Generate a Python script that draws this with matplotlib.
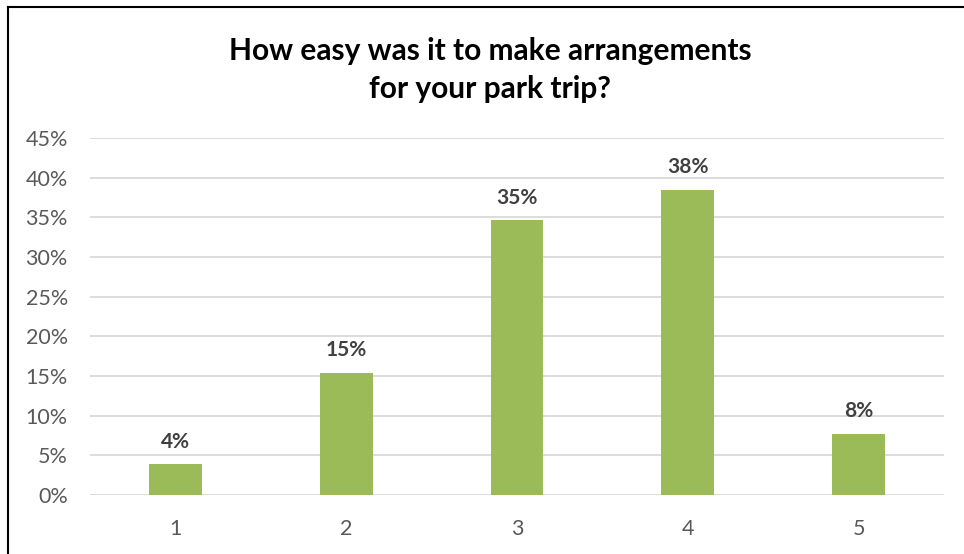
import matplotlib.pyplot as plt
from matplotlib.lines import Line2D
import matplotlib.ticker as mtick

# Respostas da pesquisa (26 respondentes), em percentual
notas = ["1", "2", "3", "4", "5"]
percentuais = [3.85, 15.38, 34.62, 38.46, 7.69]
titulo = "How easy was it to make arrangements\nfor your park trip?"

plt.rcParams["font.family"] = ["Lato", "DejaVu Sans"]

fig = plt.figure(figsize=(9.64, 5.54), dpi=100)
ax = fig.add_axes([90 / 964, 1 - 495 / 554, 854 / 964, 357 / 554])

ax.bar(notas, percentuais, width=0.31, color="#9BBB59", zorder=3)
for x, v in zip(notas, percentuais):
    ax.annotate(f"{v:.0f}%", (x, v), xytext=(0, 9), textcoords="offset points",
                ha="center", va="bottom", fontsize=15, fontweight="bold",
                color="#404040")

ax.set_ylim(0, 45)
ax.set_xlim(-0.5, 4.5)
ax.set_yticks(range(0, 46, 5))
ax.yaxis.set_major_formatter(mtick.PercentFormatter(decimals=0))
ax.grid(axis="y", color="#D9D9D9", linewidth=1.3, zorder=0)
for s in ax.spines.values():
    s.set_visible(False)
ax.tick_params(length=0, labelsize=15.5, labelcolor="#595959")
ax.tick_params(axis="y", pad=16)
ax.tick_params(axis="x", pad=17)

fig.text(490 / 964, 1 - 70 / 554, titulo, ha="center", va="center",
         fontsize=21.5, fontweight="bold", color="black", linespacing=1.45)

# moldura do gráfico (só topo e esquerda aparecem)
fig.add_artist(Line2D([8 / 964, 8 / 964], [0, 1 - 7 / 554], color="black",
                      linewidth=1.5, transform=fig.transFigure))
fig.add_artist(Line2D([8 / 964, 1], [1 - 7 / 554, 1 - 7 / 554], color="black",
                      linewidth=1.5, transform=fig.transFigure))

fig.savefig("out.png")
